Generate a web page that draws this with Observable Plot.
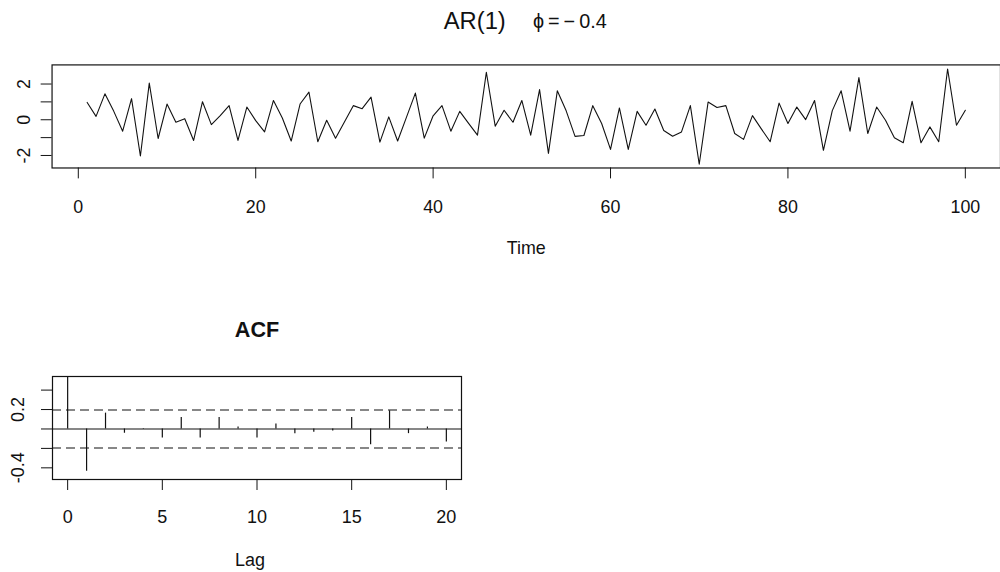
<!DOCTYPE html>
<html>
<head>
<meta charset="utf-8">
<script src="https://cdn.jsdelivr.net/npm/d3@7"></script>
<script src="https://cdn.jsdelivr.net/npm/@observablehq/plot@0.6"></script>
<style>
  html, body { margin: 0; padding: 0; background: #fff; overflow: hidden; }
  #wrap { position: relative; width: 1000px; height: 572px; overflow: hidden; background: #fff; }
  #toppanel, #acfpanel { position: absolute; left: 0; }
  #toppanel { top: 0; }
  #acfpanel { top: 290px; }
</style>
</head>
<body>
<div id="wrap">
  <div id="toppanel"></div>
  <div id="acfpanel"></div>
</div>
<script>
// ---- data ----
const timeValues = [
  0.97, 0.19, 1.45, 0.47, -0.64, 1.18, -2.03, 2.05, -1.05, 0.88,
  -0.14, 0.06, -1.16, 1.01, -0.27, 0.23, 0.79, -1.16, 0.71, -0.05,
  -0.68, 1.08, 0.10, -1.19, 0.88, 1.55, -1.23, -0.03, -1.03, -0.12,
  0.79, 0.62, 1.27, -1.25, 0.16, -1.19, 0.15, 1.49, -1.03, 0.22,
  0.79, -0.64, 0.47, -0.20, -0.86, 2.66, -0.36, 0.53, -0.14, 1.08,
  -0.86, 1.69, -1.88, 1.62, 0.50, -0.93, -0.88, 0.79, -0.21, -1.66,
  0.66, -1.66, 0.47, -0.31, 0.60, -0.60, -0.92, -0.68, 0.79, -2.49,
  0.99, 0.69, 0.79, -0.77, -1.10, 0.23, -0.51, -1.23, 0.93, -0.21,
  0.71, 0.01, 1.08, -1.71, 0.51, 1.62, -0.64, 2.36, -0.77, 0.71,
  -0.03, -1.01, -1.29, 1.03, -1.29, -0.40, -1.23, 2.84, -0.31, 0.53
];
const timeIndex = timeValues.map((_, i) => i + 1);
const timeXTicks = [0, 20, 40, 60, 80, 100];
const timeYTicks = [-2, -1, 0, 1, 2];
const timeYLabels = [-2, 0, 2];

const acfLags = [0, 1, 2, 3, 4, 5, 6, 7, 8, 9, 10, 11, 12, 13, 14, 15, 16, 17, 18, 19, 20];
const acfValues = [1, -0.435, 0.163, -0.044, 0.004, -0.092, 0.119, -0.092, 0.119, 0.02,
  -0.092, 0.051, -0.048, -0.034, -0.02, 0.119, -0.163, 0.187, -0.048, 0.02, -0.133];
const acfCI = [0.196, -0.196];
const acfXTicks = [0, 5, 10, 15, 20];
const acfYTicks = [-0.4, -0.2, 0, 0.2, 0.4];
const acfYLabels = [-0.4, 0.2];

const titleLeft = "AR(1)";
const titleRight = "\u03D5\u2009=\u2009\u2212\u20090.4";

const series = timeIndex.map((t, i) => ({t, v: timeValues[i]}));
const acf = acfLags.map((lag, i) => ({lag, r: acfValues[i]}));

const REG = "\"Liberation Sans\", Arial, sans-serif";
const ink = "#111";

// ---- top panel ----
const topChart = Plot.plot({
  width: 1009,
  height: 270,
  marginLeft: 52,
  marginRight: 0,
  marginTop: 65,
  marginBottom: 101,
  style: {fontFamily: REG, fontSize: "18px", color: ink, background: "transparent"},
  x: {domain: [-2.96, 103.96]},
  y: {domain: [-2.7, 3.07]},
  marks: [
    Plot.frame({stroke: ink, strokeWidth: 1.2}),
    Plot.line(series, {x: "t", y: "v", stroke: ink, strokeWidth: 1.1}),
    Plot.axisX({ticks: timeXTicks, tickSize: 11, tickPadding: 22, fontSize: 18, label: null, stroke: ink}),
    Plot.axisY({ticks: timeYTicks, tickSize: 11, tickFormat: () => "", label: null, stroke: ink}),
    Plot.text(timeYLabels, {y: d => d, text: d => String(d), frameAnchor: "left", dx: -28, rotate: -90,
      textAnchor: "middle", lineAnchor: "middle", fontSize: 18, fill: ink}),
    Plot.text(["Time"], {frameAnchor: "bottom", lineAnchor: "middle", dy: 81, fontSize: 18, fill: ink}),
    Plot.text([titleLeft], {frameAnchor: "top", lineAnchor: "middle", dy: -44, dx: -52, fontSize: 24, fill: ink}),
    Plot.text([titleRight], {frameAnchor: "top", lineAnchor: "middle", dy: -44, dx: 44, fontSize: 20, fill: ink})
  ]
});
document.getElementById("toppanel").appendChild(topChart);

// ---- ACF panel ----
const acfChart = Plot.plot({
  width: 480,
  height: 282,
  marginLeft: 52,
  marginRight: 19,
  marginTop: 86,
  marginBottom: 93,
  style: {fontFamily: REG, fontSize: "18px", color: ink, background: "transparent"},
  x: {domain: [-0.8, 20.8]},
  y: {domain: [-0.52, 0.54]},
  marks: [
    Plot.ruleY([0], {stroke: ink, strokeWidth: 1.1}),
    Plot.ruleY(acfCI, {stroke: ink, strokeWidth: 1.1, strokeDasharray: "9,5"}),
    Plot.ruleX(acf, {x: "lag", y1: 0, y2: "r", stroke: ink, strokeWidth: 1.2, clip: true}),
    Plot.frame({stroke: ink, strokeWidth: 1.2}),
    Plot.axisX({ticks: acfXTicks, tickSize: 11, tickPadding: 20, fontSize: 18, label: null, stroke: ink}),
    Plot.axisY({ticks: acfYTicks, tickSize: 11, tickFormat: () => "", label: null, stroke: ink}),
    Plot.text(acfYLabels, {y: d => d, text: d => String(d), frameAnchor: "left", dx: -34, rotate: -90,
      textAnchor: "middle", lineAnchor: "middle", fontSize: 18, fill: ink}),
    Plot.text(["Lag"], {frameAnchor: "bottom", lineAnchor: "middle", dy: 81, dx: -7, fontSize: 18, fill: ink}),
    Plot.text(["ACF"], {frameAnchor: "top", lineAnchor: "middle", dy: -46, fontSize: 21.6, fontWeight: "bold", fill: ink})
  ]
});
document.getElementById("acfpanel").appendChild(acfChart);
</script>
</body>
</html>
